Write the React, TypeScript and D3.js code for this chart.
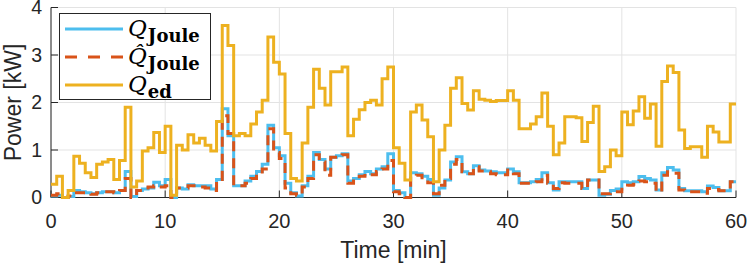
import React from 'react';
import * as d3 from 'd3';

// samples every 0.5 min, 0 .. 59.5
const STEP = 0.5;

const qJoule = [
  0.03, 0.05, 0.0, 0.02, 0.15, 0.12, 0.1, 0.08, 0.1, 0.12, 0.12, 0.1, 0.15, 0.55, 0.02, 0.15, 0.18, 0.2, 0.32, 0.25,
  0.38, 0.0, 0.2, 0.18, 0.27, 0.25, 0.25, 0.25, 0.18, 0.38, 1.87, 1.3, 0.25, 0.25, 0.35, 0.45, 0.55, 0.7, 1.52, 1.05,
  0.88, 0.3, 0.1, 0.03, 0.25, 0.45, 0.95, 0.8, 0.6, 0.85, 0.88, 0.92, 0.35, 0.4, 0.48, 0.55, 0.5, 0.6, 0.65, 0.92,
  0.15, 0.1, 0.0, 0.52, 0.5, 0.45, 0.38, 0.05, 0.2, 0.37, 0.75, 0.86, 0.54, 0.5, 0.67, 0.58, 0.56, 0.54, 0.52, 0.52,
  0.6, 0.54, 0.31, 0.31, 0.33, 0.38, 0.52, 0.31, 0.16, 0.33, 0.33, 0.33, 0.33, 0.19, 0.37, 0.37, 0.05, 0.07, 0.15, 0.18,
  0.33, 0.31, 0.33, 0.44, 0.4, 0.37, 0.16, 0.52, 0.63, 0.58, 0.19, 0.14, 0.14, 0.14, 0.12, 0.24, 0.21, 0.14, 0.14, 0.33,
];

const qJouleHat = [
  0.05, 0.08, 0.0, 0.03, 0.1, 0.1, 0.08, 0.07, 0.1, 0.12, 0.12, 0.1, 0.15, 0.4, 0.0, 0.15, 0.2, 0.22, 0.25, 0.22,
  0.25, 0.0, 0.2, 0.2, 0.25, 0.25, 0.22, 0.2, 0.15, 0.38, 1.72, 1.35, 0.25, 0.25, 0.3, 0.4, 0.5, 0.6, 1.45, 0.95,
  0.82, 0.2, 0.08, 0.05, 0.22, 0.4, 0.9, 0.75, 0.47, 0.85, 0.85, 0.9, 0.3, 0.38, 0.45, 0.5, 0.48, 0.55, 0.6, 0.78,
  0.12, 0.08, 0.0, 0.44, 0.47, 0.37, 0.31, 0.08, 0.26, 0.4, 0.7, 0.8, 0.54, 0.5, 0.65, 0.56, 0.54, 0.5, 0.48, 0.48,
  0.58, 0.5, 0.3, 0.3, 0.3, 0.33, 0.47, 0.3, 0.19, 0.31, 0.3, 0.3, 0.3, 0.19, 0.37, 0.37, 0.08, 0.08, 0.12, 0.12,
  0.22, 0.26, 0.28, 0.35, 0.33, 0.3, 0.12, 0.47, 0.54, 0.51, 0.16, 0.12, 0.12, 0.12, 0.09, 0.19, 0.17, 0.14, 0.14, 0.33,
];

const qEd = [
  0.28, 0.45, 0.0, 0.15, 0.87, 0.72, 0.52, 0.42, 0.7, 0.75, 0.8, 0.38, 0.78, 1.9, 0.22, 0.35, 0.98, 1.05, 1.37, 0.95,
  1.5, 0.05, 1.1, 1.0, 1.32, 1.15, 1.25, 1.1, 0.98, 1.6, 3.62, 3.2, 1.3, 1.35, 1.3, 1.55, 1.8, 2.05, 3.38, 2.85,
  2.6, 1.35, 0.4, 0.35, 1.15, 1.9, 2.7, 2.3, 1.95, 2.65, 2.65, 2.75, 1.3, 1.65, 1.85, 2.0, 2.05, 1.95, 2.5, 2.75,
  1.05, 0.72, 0.37, 1.8, 1.95, 1.63, 1.28, 0.33, 1.0, 1.52, 2.3, 2.52, 1.98, 1.84, 2.25, 2.07, 2.05, 2.02, 2.04, 2.04,
  2.25, 2.05, 1.45, 1.45, 1.55, 1.7, 2.2, 1.5, 0.9, 1.15, 1.7, 1.7, 1.68, 1.18, 1.58, 1.92, 0.55, 0.65, 1.0, 0.88,
  1.8, 1.53, 1.82, 2.12, 1.67, 1.97, 1.08, 2.44, 2.77, 2.63, 1.42, 1.03, 1.07, 1.07, 0.85, 1.5, 1.38, 1.17, 1.17, 1.97,
];

const xTicks = [0, 10, 20, 30, 40, 50, 60];
const yTicks = [0, 1, 2, 3, 4];

const W = 747, H = 267;
const m = { left: 51, right: 11, top: 7.5, bottom: 69.5 };

const BLUE = '#4DBEEE';
const ORANGE = '#D95319';
const YELLOW = '#EDB120';
const AX = '#262626';
const SANS = '"Liberation Sans", Arial, Helvetica, sans-serif';
const SERIF = '"DejaVu Serif", "Liberation Serif", serif';

function toPoints(vals: number[]): [number, number][] {
  const pts: [number, number][] = vals.map((v, i) => [i * STEP, v]);
  pts.push([vals.length * STEP, vals[vals.length - 1]]);
  return pts;
}

export default function App() {
  const x = d3.scaleLinear().domain([0, 60]).range([m.left, W - m.right]);
  const y = d3.scaleLinear().domain([0, 4]).range([H - m.bottom, m.top]);

  const line = d3.line<[number, number]>()
    .x(d => x(d[0]))
    .y(d => y(d[1]))
    .curve(d3.curveStepAfter);

  const x0 = x.range()[0], x1 = x.range()[1];
  const y0 = y.range()[0], y1 = y.range()[1];

  // legend
  const lg = { x: 59.5, y: 13.5, w: 151, h: 86 };
  const rows = [29, 57, 85];
  const labels = [
    { q: 'Q', sub: 'Joule' },
    { q: 'Q\u0302', sub: 'Joule' },
    { q: 'Q', sub: 'ed' },
  ];

  return (
    <svg width={W} height={H} style={{ position: 'absolute', left: 0, top: 0, background: '#fff' }}>
      {/* grid */}
      {xTicks.map(t => (
        <line key={'gx' + t} x1={x(t)} x2={x(t)} y1={y1} y2={y0} stroke="#e3e3e3" strokeWidth={1} />
      ))}
      {yTicks.map(t => (
        <line key={'gy' + t} x1={x0} x2={x1} y1={y(t)} y2={y(t)} stroke="#e3e3e3" strokeWidth={1} />
      ))}

      {/* axes */}
      <line x1={x0} x2={x0} y1={y1} y2={y0} stroke={AX} strokeWidth={1} />
      <line x1={x0} x2={x1} y1={y0} y2={y0} stroke={AX} strokeWidth={1} />
      {xTicks.map(t => (
        <line key={'tx' + t} x1={x(t)} x2={x(t)} y1={y0} y2={y0 - 7} stroke={AX} strokeWidth={1} />
      ))}
      {yTicks.map(t => (
        <line key={'ty' + t} x1={x0} x2={x0 + 7} y1={y(t)} y2={y(t)} stroke={AX} strokeWidth={1} />
      ))}

      {/* series */}
      <g fill="none" strokeLinejoin="miter">
        <path d={line(toPoints(qJoule)) || ''} stroke={BLUE} strokeWidth={3} />
        <path d={line(toPoints(qJouleHat)) || ''} stroke={ORANGE} strokeWidth={3} strokeDasharray="10 7" />
        <path d={line(toPoints(qEd)) || ''} stroke={YELLOW} strokeWidth={3} />
      </g>

      {/* tick labels */}
      {xTicks.map(t => (
        <text key={'lx' + t} x={x(t)} y={228} textAnchor="middle" fontFamily={SANS} fontSize={20} fill={AX}>{t}</text>
      ))}
      {yTicks.map(t => (
        <text key={'ly' + t} x={42} y={y(t) + 6.8} textAnchor="end" fontFamily={SANS} fontSize={19.5} fill={AX}>{t}</text>
      ))}

      {/* axis labels */}
      <text x={(x0 + x1) / 2} y={258} textAnchor="middle" fontFamily={SANS} fontSize={23} fill={AX}>Time [min]</text>
      <text transform={`translate(21,${(y0 + y1) / 2}) rotate(-90)`} textAnchor="middle" fontFamily={SANS} fontSize={23} fill={AX}>Power [kW]</text>

      {/* legend */}
      <rect x={lg.x} y={lg.y} width={lg.w} height={lg.h} fill="#fff" stroke={AX} strokeWidth={1} />
      <line x1={65} x2={123} y1={rows[0]} y2={rows[0]} stroke={BLUE} strokeWidth={3} />
      <line x1={65} x2={123} y1={rows[1]} y2={rows[1]} stroke={ORANGE} strokeWidth={3} strokeDasharray="12 11" />
      <line x1={65} x2={123} y1={rows[2]} y2={rows[2]} stroke={YELLOW} strokeWidth={3} />

      {labels.map((l, i) => (
        <text key={'lg' + i} x={128} y={rows[i] + 7} fill="#000" fontFamily={SERIF}>
          <tspan fontStyle="italic" fontSize={23}>{l.q}</tspan>
          <tspan dx={1} dy={6} fontWeight="bold" fontSize={18}>{l.sub}</tspan>
        </text>
      ))}
    </svg>
  );
}
